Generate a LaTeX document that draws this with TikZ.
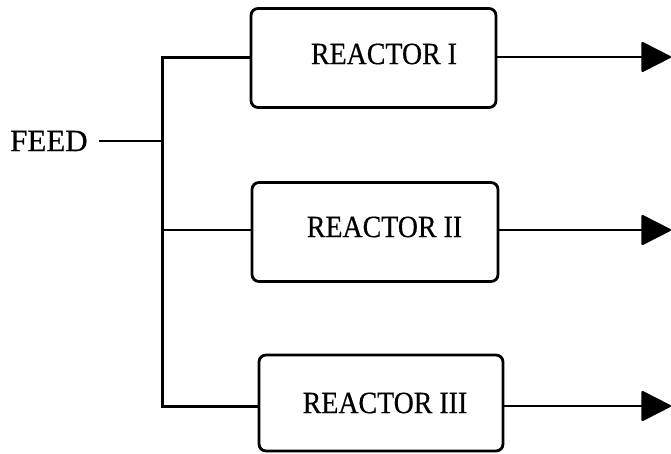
\documentclass[tikz,border=0pt]{standalone}
\usepackage{fontspec}
\setmainfont[FakeBold=0.5]{Liberation Serif}
\newfontfamily\boxfont[FakeStretch=0.9,FakeBold=0.5]{Liberation Serif}
\usetikzlibrary{arrows.meta}
\begin{document}
\begin{tikzpicture}[x=1pt,y=-1pt,
  reactor/.style={draw,line width=2.8pt,rounded corners=7pt,minimum width=#1,minimum height=99pt,inner sep=0pt},
  lbl/.style={font=\boxfont\fontsize{31}{31}\selectfont,inner sep=0pt},
  pipe/.style={line width=2.2pt},
  trunk/.style={line width=3pt},
  flow/.style={pipe,-{Triangle[length=31pt,width=31pt,round]}}]
\useasboundingbox (0,0) rectangle (671,453);
% reactor vessels
\node[reactor=245pt] (b1) at (373.5,58) {};
\node[reactor=246pt] (b2) at (375,232) {};
\node[reactor=244pt,minimum height=96pt] (b3) at (381,403) {};
\node[lbl] (t1) at (384,54) {REACTOR I};
\node[lbl] (t2) at (384.5,227) {REACTOR II};
\node[lbl] (t3) at (385,403) {REACTOR III};
% feed label and header
\node[font=\fontsize{31}{31}\selectfont,inner sep=0pt,anchor=west] (feed) at (10,141) {FEED};
\coordinate (j0) at (162,141);
\coordinate (j1) at (162,57);
\coordinate (j2) at (162,230);
\coordinate (j3) at (162,406);
\draw[pipe] ([xshift=11pt]feed.east) -- (j0);
\draw[trunk,line join=miter] (j1 -| b1.west) -- (j1) -- (j3) -- (j3 -| b3.west);
\draw[pipe] (j2) -- (j2 -| b2.west);
% product streams
\coordinate (o1) at (671,57);
\coordinate (o2) at (671,230);
\coordinate (o3) at (671,406);
\draw[flow] (o1 -| b1.east) -- (o1);
\draw[flow] (o2 -| b2.east) -- (o2);
\draw[flow] (o3 -| b3.east) -- (o3);
\end{tikzpicture}
\end{document}
